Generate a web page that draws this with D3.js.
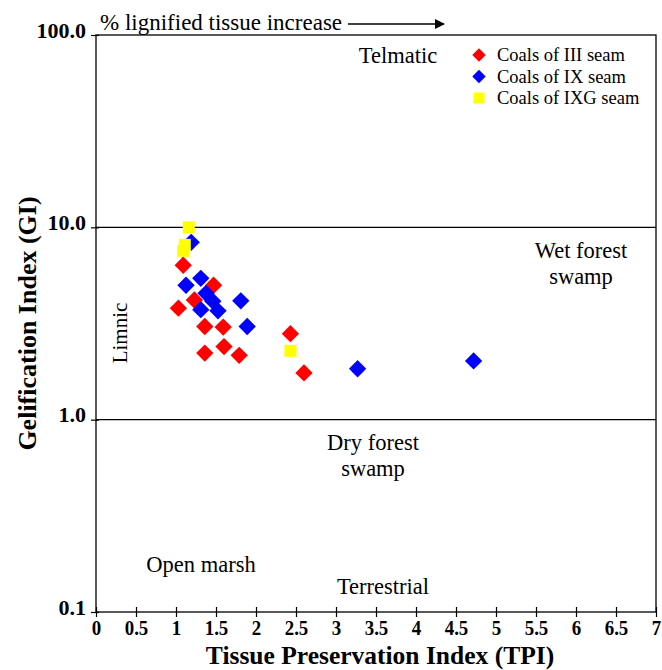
<!DOCTYPE html>
<html>
<head>
<meta charset="utf-8">
<script src="https://cdn.jsdelivr.net/npm/d3@7"></script>
<style>
  body { margin: 0; background: #fff; }
  svg { display: block; font-family: "Liberation Serif", "Times New Roman", serif; }
</style>
</head>
<body>
<div id="chart"></div>
<script>
// TPI / GI readings per seam
const seamIII_tpi = [1.09, 1.47, 1.23, 1.03, 1.36, 1.59, 1.36, 1.60, 1.79, 2.43, 2.60];
const seamIII_gi  = [6.35, 5.00, 4.19, 3.80, 3.05, 3.03, 2.22, 2.40, 2.16, 2.80, 1.75];

const seamIX_tpi = [1.19, 1.125, 1.31, 1.375, 1.46, 1.31, 1.525, 1.81, 1.89, 3.27, 4.72];
const seamIX_gi  = [8.36, 5.00, 5.43, 4.54, 4.13, 3.73, 3.68, 4.15, 3.05, 1.84, 2.02];

const seamIXG_tpi = [1.16, 1.11, 1.09, 2.43];
const seamIXG_gi  = [10.0, 8.11, 7.55, 2.28];

const xTicks = [0, 0.5, 1, 1.5, 2, 2.5, 3, 3.5, 4, 4.5, 5, 5.5, 6, 6.5, 7];
const yTicks = [0.1, 1, 10, 100];

const width = 662, height = 670;
const margin = {top: 35, right: 6, bottom: 58, left: 96};

const svg = d3.select("#chart").append("svg")
  .attr("width", width)
  .attr("height", height);

const x = d3.scaleLinear().domain([0, 7]).range([margin.left, width - margin.right]);
const y = d3.scaleLog().domain([0.1, 100]).range([height - margin.bottom, margin.top]);

// frame
svg.append("rect")
  .attr("x", x(0)).attr("y", y(100))
  .attr("width", x(7) - x(0)).attr("height", y(0.1) - y(100))
  .attr("fill", "none").attr("stroke", "#000").attr("stroke-width", 1.3);

// boundary lines at GI = 10 and GI = 1
svg.append("g").selectAll("line")
  .data([10, 1])
  .join("line")
  .attr("x1", x(0)).attr("x2", x(7))
  .attr("y1", d => y(d)).attr("y2", d => y(d))
  .attr("stroke", "#000").attr("stroke-width", 1.3);

// x axis
const xAxis = svg.append("g")
  .attr("transform", `translate(0,${y(0.1)})`)
  .call(d3.axisBottom(x).tickValues(xTicks).tickSize(5).tickSizeOuter(0).tickPadding(3)
    .tickFormat(d => d3.format("")(d)));
xAxis.select(".domain").remove();
xAxis.selectAll(".tick line").attr("y1", -5).attr("stroke-width", 1.2);
xAxis.selectAll("text")
  .attr("font-size", 21).attr("font-weight", "bold")
  .attr("font-family", "Liberation Serif, serif").attr("fill", "#000")
  .attr("transform", "scale(0.9,1)");

// y axis
const yAxis = svg.append("g")
  .attr("transform", `translate(${x(0)},0)`)
  .call(d3.axisLeft(y).tickValues(yTicks).tickSize(5).tickSizeOuter(0).tickPadding(5)
    .tickFormat(d3.format(".1f")));
yAxis.select(".domain").remove();
yAxis.selectAll(".tick line").attr("x1", 3).attr("stroke-width", 1.2);
yAxis.selectAll("text")
  .attr("font-size", 22).attr("font-weight", "bold")
  .attr("font-family", "Liberation Serif, serif").attr("fill", "#000")
  .attr("dy", "0.1em");

// axis titles
svg.append("text")
  .attr("x", 380).attr("y", 664)
  .attr("text-anchor", "middle")
  .attr("font-size", 25.5).attr("font-weight", "bold")
  .text("Tissue Preservation Index (TPI)");

svg.append("text")
  .attr("transform", `translate(36,${(y(0.1) + y(100)) / 2}) rotate(-90)`)
  .attr("text-anchor", "middle")
  .attr("font-size", 26).attr("font-weight", "bold")
  .text("Gelification Index (GI)");

// top annotation with arrow
svg.append("defs").append("marker")
  .attr("id", "arrow")
  .attr("viewBox", "0 0 10 10")
  .attr("refX", 9).attr("refY", 5)
  .attr("markerWidth", 11).attr("markerHeight", 10)
  .attr("markerUnits", "userSpaceOnUse")
  .attr("orient", "auto")
  .append("path").attr("d", "M0,0L10,5L0,10Z").attr("fill", "#000");

svg.append("text")
  .attr("x", 100).attr("y", 30)
  .attr("font-size", 23)
  .text("% lignified tissue increase");
svg.append("line")
  .attr("x1", 348).attr("x2", 444)
  .attr("y1", 24).attr("y2", 24)
  .attr("stroke", "#000").attr("stroke-width", 1.3)
  .attr("marker-end", "url(#arrow)");

// facies labels
const labels = [
  {t: ["Telmatic"], cx: 398, cy: 63},
  {t: ["Wet forest", "swamp"], cx: 581, cy: 258},
  {t: ["Dry forest", "swamp"], cx: 373, cy: 450},
  {t: ["Open marsh"], cx: 201, cy: 572},
  {t: ["Terrestrial"], cx: 383, cy: 594}
];
labels.forEach(l => {
  const txt = svg.append("text")
    .attr("text-anchor", "middle")
    .attr("font-size", 22.5);
  l.t.forEach((s, i) => {
    txt.append("tspan").attr("x", l.cx).attr("y", l.cy + i * 26).text(s);
  });
});
svg.append("text")
  .attr("transform", "translate(127,333) rotate(-90)")
  .attr("text-anchor", "middle")
  .attr("font-size", 21)
  .text("Limnic");

// points
const diamond = d3.symbol().type(d3.symbolSquare).size(150);
const square = d3.symbol().type(d3.symbolSquare).size(144);

function drawSeries(xs, ys, color, isDiamond) {
  svg.append("g").selectAll("path")
    .data(xs.map((v, i) => [v, ys[i]]))
    .join("path")
    .attr("d", isDiamond ? diamond : square)
    .attr("transform", d => `translate(${x(d[0])},${y(d[1])})` + (isDiamond ? " rotate(45)" : ""))
    .attr("fill", color);
}
drawSeries(seamIII_tpi, seamIII_gi, "#ff0000", true);
drawSeries(seamIX_tpi, seamIX_gi, "#0000ff", true);
drawSeries(seamIXG_tpi, seamIXG_gi, "#ffff00", false);

// legend
const legend = [
  {name: "Coals of III seam", color: "#ff0000", dia: true},
  {name: "Coals of IX seam", color: "#0000ff", dia: true},
  {name: "Coals of IXG seam", color: "#ffff00", dia: false}
];
const lg = svg.append("g").attr("transform", "translate(479,55)");
legend.forEach((d, i) => {
  lg.append("path")
    .attr("d", d3.symbol().type(d3.symbolSquare).size(d.dia ? 90 : 121)())
    .attr("transform", `translate(0,${i * 21.5})` + (d.dia ? " rotate(45)" : ""))
    .attr("fill", d.color);
  lg.append("text")
    .attr("x", 18).attr("y", i * 21.5 + 6)
    .attr("font-size", 18.5)
    .text(d.name);
});
</script>
</body>
</html>
